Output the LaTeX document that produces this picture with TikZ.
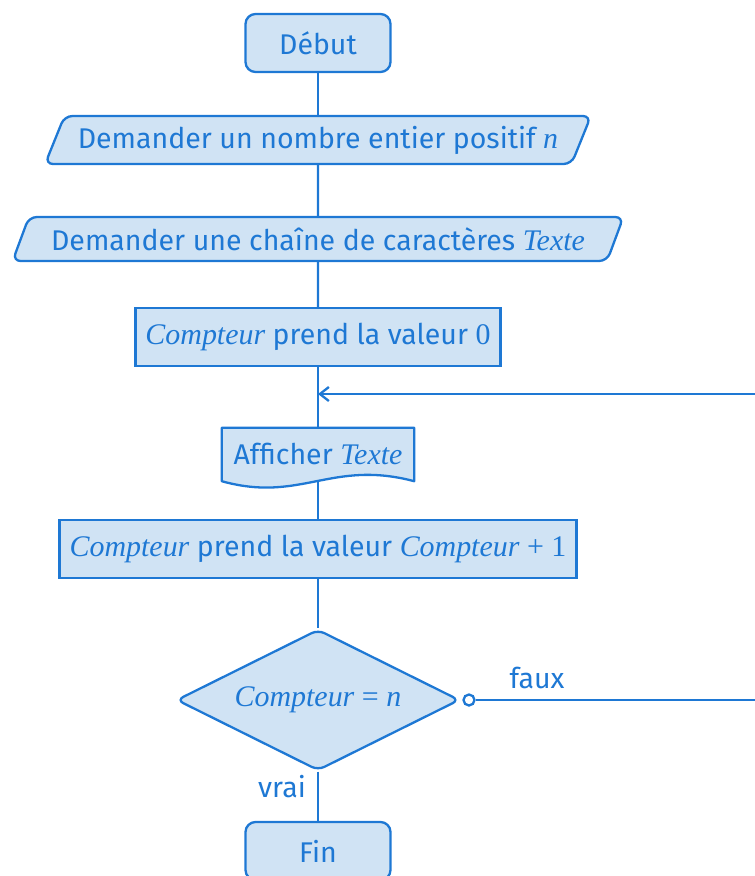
\documentclass[tikz,border=0pt]{standalone}
\usepackage{fontspec}
\setmainfont{Fira Sans}
\newfontfamily\varfont[Scale=1.05]{Liberation Serif}
% variables in serif italic, operators and digits in upright serif
\newcommand\vit[1]{{\varfont\itshape #1}}
\newcommand\vup[1]{{\varfont #1}}
\usetikzlibrary{shapes.geometric,arrows.meta,backgrounds}
\definecolor{flowline}{HTML}{1E78D4}
\definecolor{flowfill}{HTML}{D0E3F4}
\begin{document}
\begin{tikzpicture}[x=1pt,y=-1pt,
  every node/.style={text=flowline,font=\fontsize{28.5}{34}\selectfont},
  box/.style={draw=flowline,fill=flowfill,line width=2.3pt,inner sep=0pt},
  terminal/.style={box,rectangle,rounded corners=10pt,minimum width=145pt,minimum height=58pt},
  process/.style={box,rectangle,minimum height=58pt},
  io/.style={box,trapezium,trapezium left angle=57,trapezium right angle=123,
    trapezium stretches=true,rounded corners=8pt},
  decision/.style={box,diamond,aspect=2,minimum width=283pt,minimum height=141pt,rounded corners=7pt},
  knob/.style={circle,draw=flowline,fill=white,line width=2.3pt,inner sep=0pt,minimum size=11pt},
  link/.style={draw=flowline,line width=2.3pt},
]
\useasboundingbox (0,0) rectangle (755,876);

% main column of the flowchart
\node[terminal] (debut) at (318,43) {Début};
\node[io,minimum width=549pt,minimum height=48pt] (in1) at (318,140)
  {Demander un nombre entier positif \vit{n}};
\node[io,minimum width=612pt,minimum height=44pt] (in2) at (318,239)
  {Demander une chaîne de caractères \vit{Texte}};
\node[process,minimum width=365pt] (init) at (318,337)
  {\vit{Compteur} prend la valeur \vup{0}};
\node[inner sep=0pt,minimum width=192pt,minimum height=52pt] (aff) at (318,454)
  {Afficher \vit{Texte}};
\node[process,minimum width=517pt] (inc) at (318,549)
  {\vit{Compteur} prend la valeur \vit{Compteur} \vup{+ 1}};
\node[decision] (test) at (318,700) {\vit{Compteur} \vup{=} \vit{n}};
\node[terminal] (fin) at (318,851) {Fin};
\node[knob] (no) at (469,700) {};

% output block: straight top, wavy bottom
\begin{scope}[on background layer]
  \filldraw[draw=flowline,fill=flowfill,line width=2.3pt,line join=round]
    (aff.north west) -- (aff.north east) -- ([yshift=-1pt]aff.south east)
    .. controls +(-83,-22) and +(79,22) .. ([yshift=-1pt]aff.south west) -- cycle;
\end{scope}

% connectors
\draw[link] (debut) -- (in1);
\draw[link] (in1) -- (in2);
\draw[link] (in2) -- (init);
\draw[link] (init) -- (aff.north);
\draw[link] ([yshift=-2pt]aff.south) -- (inc);
\draw[link] (inc) -- (test);
\draw[link] (test) -- (fin);

% loop back when the test fails
\coordinate (join) at (318,394);
\coordinate (loopR) at (790,700);
\draw[link,-{Straight Barb[length=9pt,width=14pt]}] (no) -- (loopR) |- (join);

\node[anchor=base] (faux) at (537,688) {faux};
\node[anchor=base] (vrai) at (282,797) {vrai};
\end{tikzpicture}
\end{document}
